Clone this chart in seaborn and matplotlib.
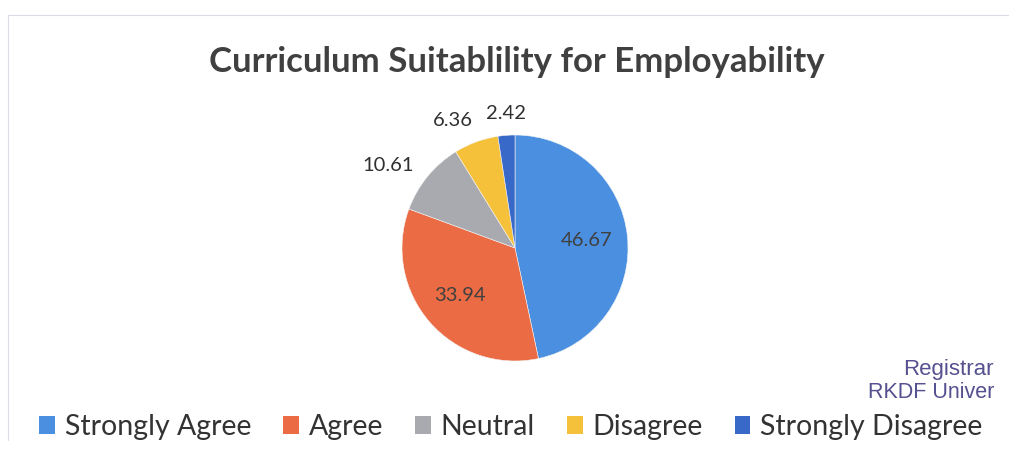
import matplotlib
matplotlib.use("Agg")
import matplotlib.pyplot as plt
from matplotlib.lines import Line2D
from matplotlib.patches import Patch
import numpy as np
import seaborn as sns

categories = ["Strongly Agree", "Agree", "Neutral", "Disagree", "Strongly Disagree"]
values = [46.67, 33.94, 10.61, 6.36, 2.42]
value_labels = ["46.67", "33.94", "10.61", "6.36", "2.42"]
title = "Curriculum Suitablility for Employability"
stamp_lines = ["Registrar", "RKDF Univer"]

sns.set_theme(style="white")
plt.rcParams["font.family"] = ["Lato", "DejaVu Sans"]

palette = sns.color_palette(["#4A8FE0", "#EB6B44", "#A9A9B0", "#F5C13A", "#3868C8"])

fig = plt.figure(figsize=(10.09, 4.74), dpi=100)
fig.patch.set_facecolor("white")

# faint chart-area frame
fig.add_artist(Line2D([8 / 1009, 1.0], [1 - 15 / 474, 1 - 15 / 474],
                      color="#dcdce8", lw=0.8, transform=fig.transFigure))
fig.add_artist(Line2D([8 / 1009, 8 / 1009], [1 - 15 / 474, 1 - 440 / 474],
                      color="#dcdce8", lw=0.8, transform=fig.transFigure))

cx, cy, r = 515 / 1009, 1 - 248 / 474, 113
ax = fig.add_axes([cx - r / 1009, cy - r / 474, 2 * r / 1009, 2 * r / 474])
wedges, _ = ax.pie(values, colors=palette, startangle=90, counterclock=False,
                   radius=1.0, wedgeprops=dict(linewidth=0.4, edgecolor="#f4f4f4"))
ax.set_xlim(-1, 1)
ax.set_ylim(-1, 1)
ax.set_aspect("equal")
ax.axis("off")

for w, lab, v in zip(wedges, value_labels, values):
    ang = np.deg2rad((w.theta1 + w.theta2) / 2)
    c, s = np.cos(ang), np.sin(ang)
    if v > 20:
        d = 0.64
        ax.text(d * c, d * s, lab, ha="center", va="center",
                fontsize=14.5, color="#404040")
    else:
        d = 1.08
        ha = "center" if abs(c) < 0.2 else ("right" if c < 0 else "left")
        va = "bottom" if s > 0 else "top"
        far = abs(c) > 0.6
        ax.text(d * c - (0.06 if far else 0), d * s + (-0.03 if far else 0.04),
                lab, ha=ha, va=va, fontsize=14.5, color="#303030", clip_on=False)

fig.text(517 / 1009, 1 - 62 / 474, title, ha="center", va="center",
         fontsize=25, fontweight="bold", color="#404040")

handles = [Patch(facecolor=c, edgecolor="none") for c in palette]
leg = fig.legend(handles, categories, loc="center", bbox_to_anchor=(511 / 1009, 1 - 427 / 474),
                 ncol=5, frameon=False, fontsize=20.5, handlelength=0.55, handleheight=0.55,
                 handletextpad=0.35, columnspacing=1.12)
for t in leg.get_texts():
    t.set_color("#333333")

fig.text(903 / 1009, 1 - 370 / 474, stamp_lines[0], ha="left", va="center",
         fontsize=16, color="#55508f", family=["Liberation Sans", "DejaVu Sans"])
fig.text(868 / 1009, 1 - 392 / 474, stamp_lines[1], ha="left", va="center",
         fontsize=15.5, color="#55508f", family=["Liberation Sans", "DejaVu Sans"])

fig.savefig("out.png", dpi=100, facecolor="white")
